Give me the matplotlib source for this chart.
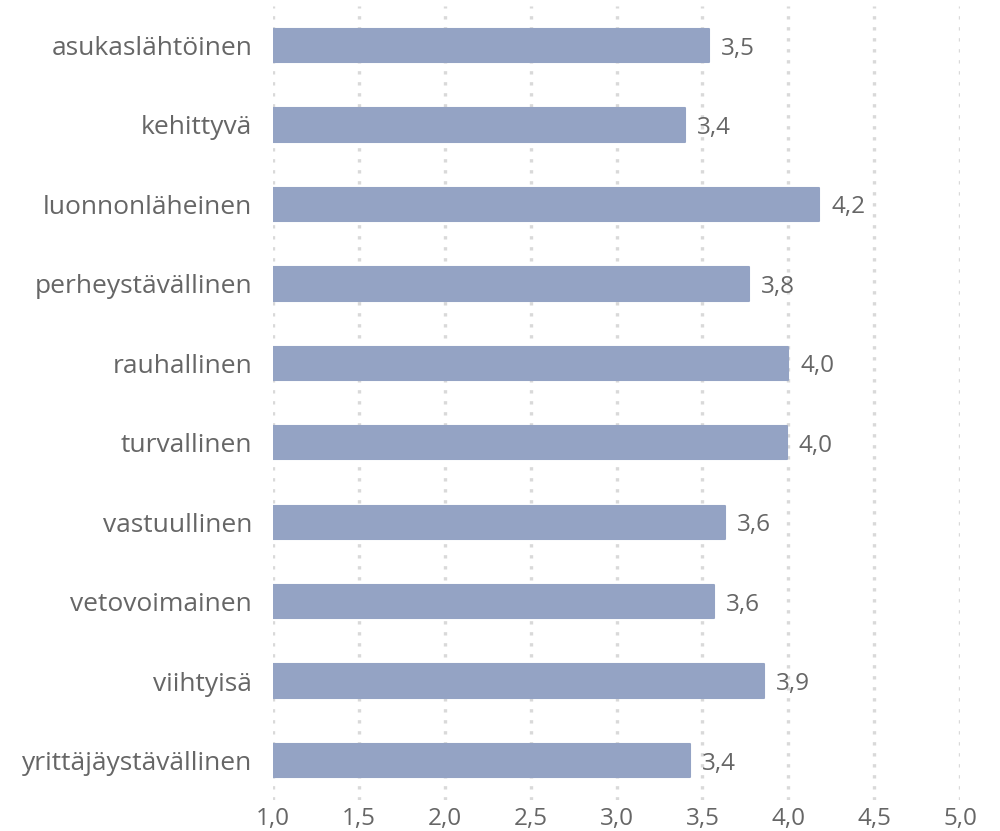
import matplotlib.pyplot as plt

categories = [
    "asukaslähtöinen", "kehittyvä", "luonnonläheinen", "perheystävällinen",
    "rauhallinen", "turvallinen", "vastuullinen", "vetovoimainen",
    "viihtyisä", "yrittäjäystävällinen",
]
values = [3.54, 3.40, 4.18, 3.77, 4.00, 3.99, 3.63, 3.57, 3.86, 3.43]
labels = ["3,5", "3,4", "4,2", "3,8", "4,0", "4,0", "3,6", "3,6", "3,9", "3,4"]
xticks = [1.0, 1.5, 2.0, 2.5, 3.0, 3.5, 4.0, 4.5, 5.0]
xticklabels = ["1,0", "1,5", "2,0", "2,5", "3,0", "3,5", "4,0", "4,5", "5,0"]

plt.rcParams["font.family"] = ["Open Sans", "DejaVu Sans"]
text_color = "#666666"
bar_color = "#94a3c4"

fig = plt.figure(figsize=(10, 8.31), dpi=100)
ax = fig.add_axes([0.273, 0.037, 0.687, 0.956])

ypos = list(range(len(categories)))
widths = [v - 1.0 for v in values]
ax.barh(ypos, widths, left=1.0, height=0.42, color=bar_color,
        edgecolor=bar_color, linewidth=1.5, joinstyle="round", zorder=3)

for y, v, lab in zip(ypos, values, labels):
    ax.text(v + 0.07, y, lab, va="center_baseline", ha="left", fontsize=17.5,
            color=text_color)

ax.set_xlim(1.0, 5.0)
ax.set_ylim(len(categories) - 0.5, -0.5)
ax.set_yticks(ypos)
ax.set_yticklabels(categories, fontsize=19, color=text_color)
ax.tick_params(axis="both", length=0)
ax.tick_params(axis="y", pad=15)
ax.set_xticks(xticks)
ax.set_xticklabels(xticklabels, fontsize=17.5, color=text_color)
ax.tick_params(axis="x", pad=5)

ax.xaxis.grid(True, linestyle=(0, (1, 2.3)), linewidth=2.4, color="#d9d9d9",
              zorder=0)
ax.set_axisbelow(True)
for s in ax.spines.values():
    s.set_visible(False)

fig.savefig("out.png", dpi=100)
